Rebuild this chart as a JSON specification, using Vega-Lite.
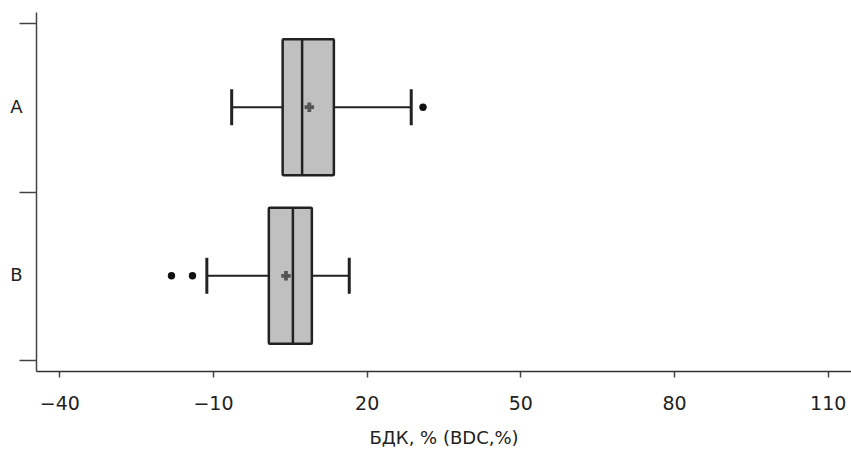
{
  "$schema": "https://vega.github.io/schema/vega-lite/v6.json",
  "width": 815,
  "height": 359,
  "autosize": {"type": "none"},
  "padding": {"left": 36, "top": 12, "right": 0, "bottom": 78},
  "background": "white",
  "config": {
    "view": {"stroke": null},
    "font": "DejaVu Sans",
    "axis": {"labelFont": "DejaVu Sans", "titleFont": "DejaVu Sans", "grid": false}
  },
  "datasets": {
    "stats": [
      {"group": "A", "lower": -6.35, "q1": 3.6, "median": 7.4, "q3": 13.6, "upper": 28.7, "mean": 8.8},
      {"group": "B", "lower": -11.2, "q1": 0.9, "median": 5.6, "q3": 9.3, "upper": 16.6, "mean": 4.25}
    ],
    "outliers": [
      {"group": "A", "value": 31.0},
      {"group": "B", "value": -18.1},
      {"group": "B", "value": -14.0}
    ]
  },
  "encoding": {
    "y": {
      "field": "group",
      "type": "nominal",
      "title": null,
      "scale": {"domain": ["A", "B"], "paddingInner": 0, "paddingOuter": 0.065},
      "axis": {
        "tickBand": "extent",
        "tickSize": 17,
        "tickWidth": 1.5,
        "tickColor": "#444",
        "domainColor": "#444",
        "domainWidth": 1.5,
        "labelPadding": -3,
        "labelFontSize": 18,
        "labelColor": "#222",
        "labelAngle": 0
      }
    }
  },
  "layer": [
    {
      "data": {"name": "stats"},
      "mark": {"type": "rule", "color": "#222", "strokeWidth": 2},
      "encoding": {
        "x": {
          "field": "lower",
          "type": "quantitative",
          "title": "БДК, % (BDC,%)",
          "scale": {"domain": [-44.55, 114.55], "nice": false, "zero": false},
          "axis": {
            "values": [-40, -10, 20, 50, 80, 110],
            "tickSize": 6,
            "tickWidth": 1.5,
            "tickColor": "#444",
            "domainColor": "#333",
            "domainWidth": 1.5,
            "labelFontSize": 19,
            "labelColor": "#222",
            "labelPadding": 17,
            "titleFontSize": 18,
            "titleFontWeight": "normal",
            "titleColor": "#222",
            "titlePadding": 16
          }
        },
        "x2": {"field": "upper"}
      }
    },
    {
      "data": {"name": "stats"},
      "mark": {"type": "bar", "size": 136, "fill": "#c0c0c0", "stroke": "#222", "strokeWidth": 2.5, "cornerRadius": 1},
      "encoding": {
        "x": {"field": "q1", "type": "quantitative"},
        "x2": {"field": "q3"}
      }
    },
    {
      "data": {"name": "stats"},
      "mark": {"type": "tick", "orient": "vertical", "size": 136, "thickness": 2.5, "color": "#222", "opacity": 1},
      "encoding": {"x": {"field": "median", "type": "quantitative"}}
    },
    {
      "data": {"name": "stats"},
      "mark": {"type": "tick", "orient": "vertical", "size": 36, "thickness": 3, "color": "#222", "opacity": 1},
      "encoding": {"x": {"field": "lower", "type": "quantitative"}}
    },
    {
      "data": {"name": "stats"},
      "mark": {"type": "tick", "orient": "vertical", "size": 36, "thickness": 3, "color": "#222", "opacity": 1},
      "encoding": {"x": {"field": "upper", "type": "quantitative"}}
    },
    {
      "data": {"name": "stats"},
      "mark": {"type": "point", "shape": "cross", "filled": true, "size": 90, "color": "#555", "opacity": 1},
      "encoding": {"x": {"field": "mean", "type": "quantitative"}}
    },
    {
      "data": {"name": "outliers"},
      "mark": {"type": "point", "shape": "circle", "filled": true, "size": 55, "color": "#111", "opacity": 1},
      "encoding": {"x": {"field": "value", "type": "quantitative"}}
    }
  ]
}
